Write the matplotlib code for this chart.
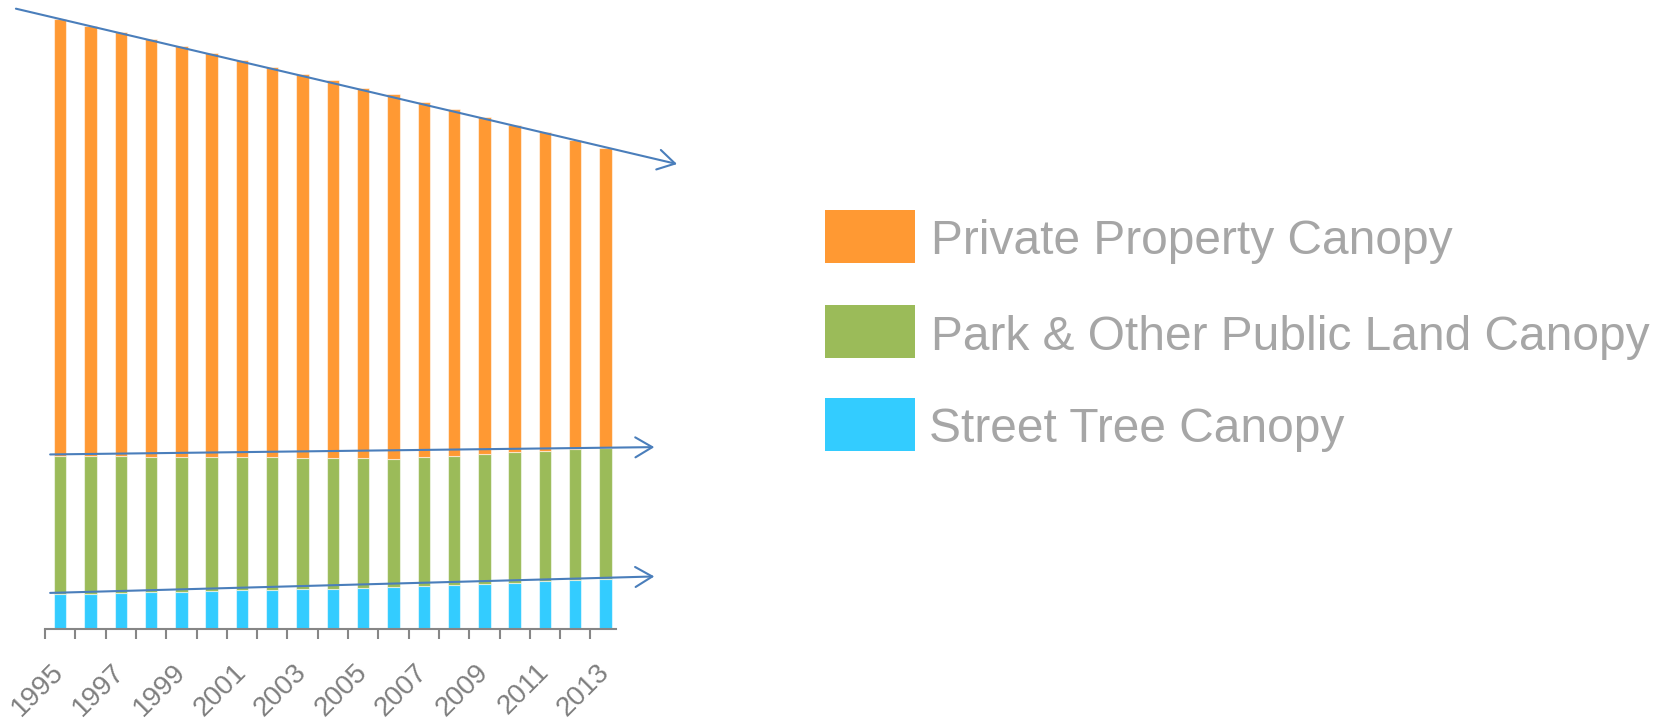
import numpy as np
import matplotlib
matplotlib.use("Agg")
import matplotlib.pyplot as plt
from matplotlib.patches import Rectangle

# ---------------- data ----------------
years = [str(y) for y in range(1995, 2014)]
street = [3.47, 3.53, 3.60, 3.67, 3.73, 3.80, 3.87, 3.90, 4.00, 4.05,
          4.10, 4.20, 4.30, 4.40, 4.53, 4.63, 4.80, 4.87, 5.00]
park = [13.83, 13.74, 13.67, 13.56, 13.47, 13.37, 13.30, 13.27, 13.13, 13.02,
        12.97, 12.83, 12.87, 12.93, 12.97, 13.04, 13.00, 13.10, 13.10]
private = [43.67, 43.06, 42.40, 41.74, 41.10, 40.43, 39.73, 39.06, 38.40, 37.80,
           37.08, 36.42, 35.53, 34.64, 33.67, 32.73, 31.90, 30.93, 30.03]
series_names = ["Private Property Canopy", "Park & Other Public Land Canopy",
                "Street Tree Canopy"]
colors = ["#FF9933", "#9BBB59", "#33CCFF"]

plt.rcParams["font.family"] = ["Liberation Sans", "DejaVu Sans"]

W, H = 1664, 720
fig = plt.figure(figsize=(W / 100, H / 100), dpi=100)
ax = fig.add_axes([45 / W, 91 / H, 575.7 / W, 620 / H])

x = np.arange(len(years))
s = np.array(street)
p = np.array(park)
v = np.array(private)
bw = 0.41
edge = (1, 1, 1, 0.55)
ax.bar(x, s, bw, color=colors[2], edgecolor=edge, linewidth=0.8)
ax.bar(x, p, bw, bottom=s, color=colors[1], edgecolor=edge, linewidth=0.8)
ax.bar(x, v, bw, bottom=s + p, color=colors[0], edgecolor=edge, linewidth=0.8)

ax.set_xlim(-0.5, 18.5)
ax.set_ylim(0, 62)
for side in ["left", "right", "top"]:
    ax.spines[side].set_visible(False)
ax.spines["bottom"].set_color("#868686")
ax.spines["bottom"].set_linewidth(1.5)
ax.spines["bottom"].set_bounds(-0.5, 18.34)
ax.set_yticks([])

ax.set_xticks(np.arange(-0.5, 18.0, 1.0))
ax.set_xticklabels([])
ax.set_xticks(x[::2], labels=years[::2], minor=True)
ax.tick_params(axis="x", which="major", length=7.2, width=1.5,
               color="#868686", direction="out")
ax.tick_params(axis="x", which="minor", length=0, pad=28,
               labelsize=20, labelcolor="#7F7F7F")
for lbl in ax.get_xticklabels(minor=True):
    lbl.set_rotation(45)
    lbl.set_ha("right")
    lbl.set_va("center")
    lbl.set_rotation_mode("anchor")

# ---------------- trend arrows ----------------
arrow_col = "#4A7EBB"
aprops = dict(arrowstyle="->,head_length=1.22,head_width=0.72", color=arrow_col,
              lw=1.5, shrinkA=0, shrinkB=0, mutation_scale=10)

def trend_arrow(vals, x0, x1, offset):
    k, b = np.polyfit(x, vals, 1)
    ax.annotate("", xy=(x1, k * x1 + b + offset), xytext=(x0, k * x0 + b + offset),
                arrowprops=aprops, annotation_clip=False)

trend_arrow(s + p + v, -1.46, 20.36, -0.15)
trend_arrow(s + p, -0.33, 19.61, 0.45)
trend_arrow(s, -0.33, 19.61, 0.25)

# ---------------- legend ----------------
box_tops = [210, 305, 398.3]
baselines = [254, 350, 441.7]
text_x = [931, 931, 929]
for name, col, top, base, tx in zip(series_names, colors, box_tops, baselines, text_x):
    fig.add_artist(Rectangle((825 / W, (H - top - 52.5) / H), 90 / W, 52.5 / H,
                             transform=fig.transFigure, facecolor=col,
                             edgecolor="none"))
    fig.text(tx / W, (H - base) / H, name, fontsize=34.5,
             color="#A6A6A6", va="baseline", ha="left")

fig.savefig("out.png", dpi=100)
